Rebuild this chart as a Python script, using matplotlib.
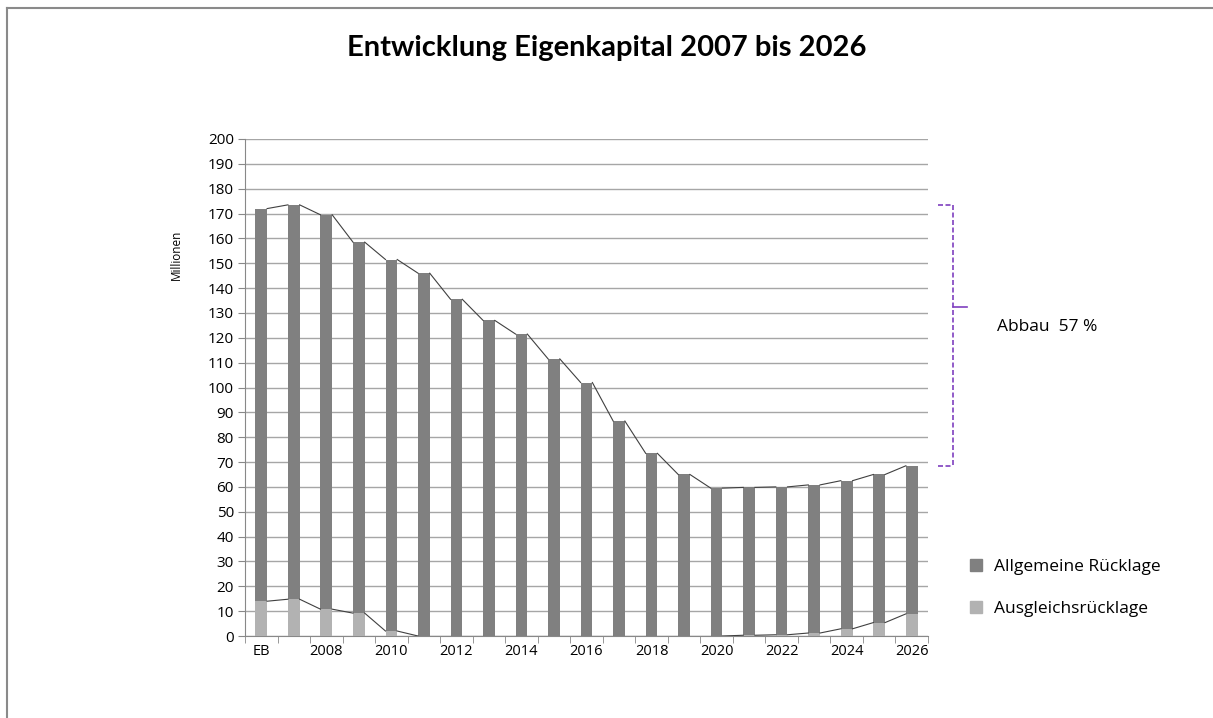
import matplotlib
matplotlib.use("Agg")
import matplotlib.pyplot as plt
from matplotlib.lines import Line2D
import numpy as np

jahre = ["EB"] + [str(j) for j in range(2007, 2027)]
ausgleich = [14, 14.8, 10.8, 9.2, 2, 0, 0, 0, 0, 0, 0, 0, 0, 0, 0, 0.3, 0.5, 1.2, 2.9, 5.4, 8.9]
gesamt = [172, 173.5, 169.5, 158.5, 151.5, 146, 135.5, 127, 121.5, 111.5, 102,
          86.5, 73.5, 65, 59.5, 59.8, 60, 60.8, 62.5, 65, 68.5]
allgemein = [g - a for g, a in zip(gesamt, ausgleich)]
xlabels = [j if i % 2 == 0 else "" for i, j in enumerate(jahre)]

plt.rcParams['font.family'] = ['Open Sans', 'DejaVu Sans']

fig = plt.figure(figsize=(12.13, 7.18), dpi=100)
ax = fig.add_axes([245/1213, 82/718, (928-245)/1213, (636-139)/718])

x = np.arange(len(jahre))
bw = 0.36
ax.bar(x, ausgleich, bw, color="#b2b2b2", label="Ausgleichsrücklage", zorder=3)
ax.bar(x, allgemein, bw, bottom=ausgleich, color="#808080", label="Allgemeine Rücklage", zorder=3)

# Verbindungslinien (Serienlinien)
for stufe in [ausgleich, gesamt]:
    for i in range(len(x) - 1):
        ax.plot([x[i] + bw/2, x[i+1] - bw/2], [stufe[i], stufe[i+1]],
                color="#404040", lw=0.8, zorder=4)

ax.set_xlim(-0.5, len(x) - 0.5)
ax.set_ylim(0, 200)
ax.set_yticks(np.arange(0, 201, 10))
ax.set_xticks(x)
ax.set_xticklabels(xlabels)
ax.set_xticks(np.arange(-0.5, len(x), 1), minor=True)
ax.tick_params(axis="x", which="major", length=0, labelsize=10.5, pad=6)
ax.tick_params(axis="x", which="minor", length=5, color="#888888")
ax.tick_params(axis="y", length=5, color="#888888", labelsize=11, pad=3)
ax.yaxis.grid(True, color="#a6a6a6", lw=1, zorder=0)
for s in ["top", "right"]:
    ax.spines[s].set_visible(False)
ax.spines["left"].set_color("#888888")
ax.spines["bottom"].set_color("#888888")

fig.text(176/1213, 1 - 255/718, "Millionen", rotation=90, fontsize=8.5,
         ha="center", va="center")

fig.text(0.5, 1 - 48/718, "Entwicklung Eigenkapital 2007 bis 2026", ha="center", va="center",
         fontsize=21, fontweight="bold", family=["Lato", "DejaVu Sans"])

# Klammer "Abbau"
lila = "#7f3fbf"
oben = max(gesamt)
unten = gesamt[-1]
kw = dict(color=lila, lw=1.2, ls=(0, (3, 1.5)), clip_on=False, zorder=5)
xk = 21.27
ax.plot([20.8, xk], [oben, oben], **kw)
ax.plot([xk, xk], [oben, unten], **kw)
ax.plot([20.8, xk], [unten, unten], **kw)
ax.plot([xk, 21.7], [132.5, 132.5], color=lila, lw=1.2, clip_on=False, zorder=5)
fig.text(997/1213, 1 - 327/718, "Abbau  57 %", fontsize=12.5, va="center", ha="left")

handles = [Line2D([], [], marker="s", ls="", color="#808080", markersize=8),
           Line2D([], [], marker="s", ls="", color="#b2b2b2", markersize=8)]
fig.legend(handles, ["Allgemeine Rücklage", "Ausgleichsrücklage"],
           loc="center left", bbox_to_anchor=(952/1213, 1 - 588/718),
           frameon=False, fontsize=12.5, labelspacing=1.5, handletextpad=0.5,
           handlelength=1)

# Rahmen
fig.add_artist(Line2D([6.5/1213, 1], [1 - 7.5/718, 1 - 7.5/718], color="#8a8a8a", lw=1.5))
fig.add_artist(Line2D([6.5/1213, 6.5/1213], [0, 1 - 7.5/718], color="#8a8a8a", lw=1.5))

fig.savefig("out.png", dpi=100)
